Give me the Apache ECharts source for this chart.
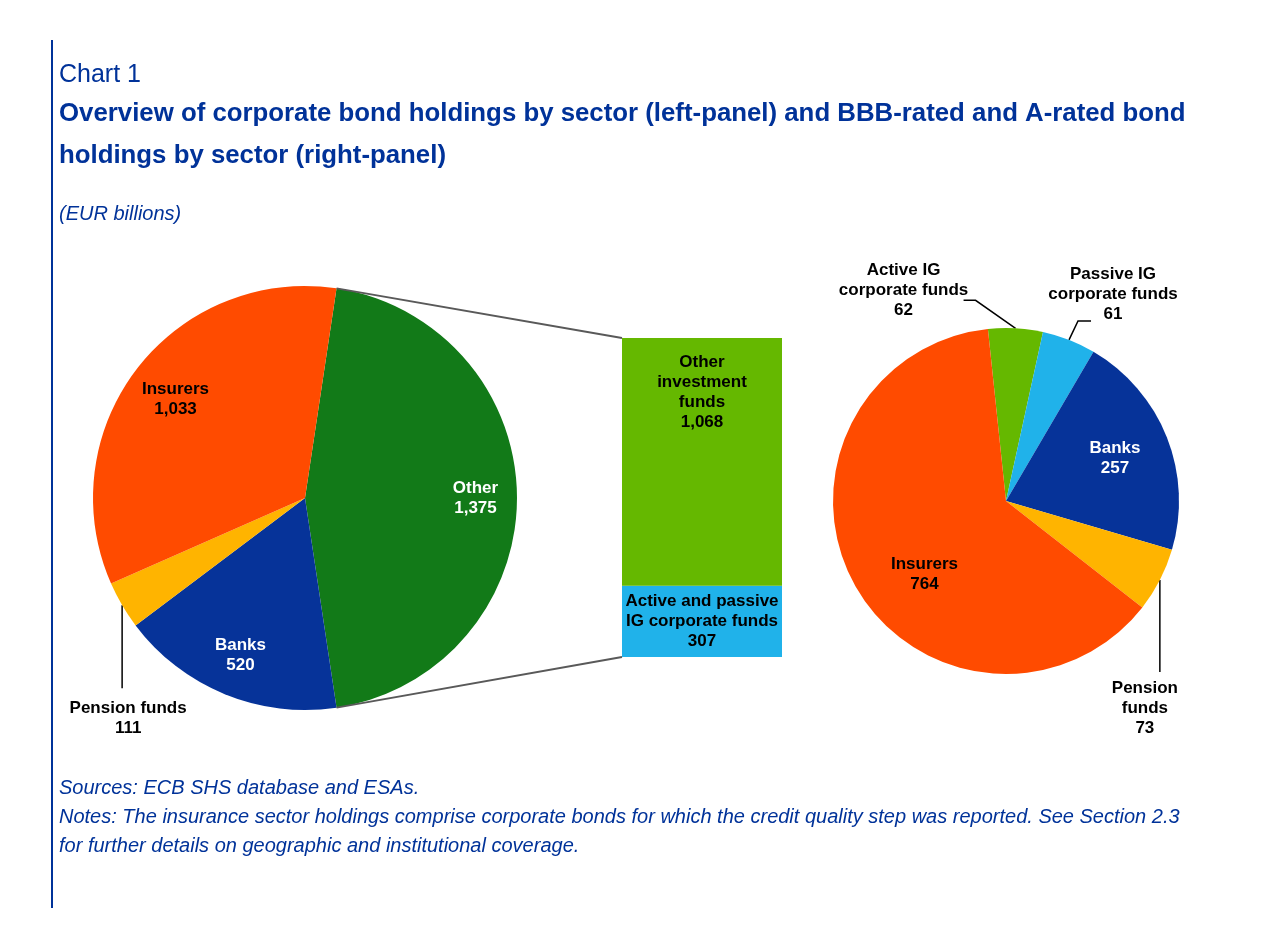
<!DOCTYPE html>
<html>
<head>
<meta charset="utf-8">
<script src="https://cdn.jsdelivr.net/npm/echarts@6/dist/echarts.min.js"></script>
<style>html,body{margin:0;padding:0;background:#fff;}#c{width:1272px;height:950px;}</style>
</head>
<body>
<div id="c"></div>
<script>
// ---- data ----
const leftCategories = ['Other', 'Banks', 'Pension funds', 'Insurers'];
const leftLabels = ['Other', 'Banks', 'Pension funds', 'Insurers'];
const leftValues = [1375, 520, 111, 1033];

const barCategories = ['Active and passive IG corporate funds', 'Other investment funds'];
const barLabels = ['Active and passive\nIG corporate funds', 'Other\ninvestment\nfunds'];
const barValues = [307, 1068];

const rightCategories = ['Active IG corporate funds', 'Passive IG corporate funds', 'Banks', 'Pension funds', 'Insurers'];
const rightLabels = ['Active IG\ncorporate funds', 'Passive IG\ncorporate funds', 'Banks', 'Pension\nfunds', 'Insurers'];
const rightValues = [62, 61, 257, 73, 764];

// ---- styles ----
const BLUE = '#003299';
const FONT = 'Liberation Sans, Arial, sans-serif';
const leftColors = ['#127A18', '#063399', '#FFB400', '#FF4B00'];
const leftLabelColors = ['#fff', '#fff', '#000', '#000'];
const leftOutside = [false, false, true, false];
const rightColors = ['#65B800', '#20B2EA', '#063399', '#FFB400', '#FF4B00'];
const rightLabelColors = ['#000', '#000', '#fff', '#000', '#000'];
const rightOutside = [true, true, false, true, false];
const barColors = ['#20B2EA', '#65B800'];

const LC = [305, 498], LR = 212;
const RC = [1006, 501], RR = 173;
const GRID = {left: 622, top: 338, width: 160, height: 319};

const fmt = v => v.toLocaleString('en-US');
const leftTotal = leftValues.reduce((a, b) => a + b, 0);
const leftStart = 360 * leftValues[0] / leftTotal / 2;
const barTotal = barValues.reduce((a, b) => a + b, 0);

const labelBase = {fontFamily: FONT, fontWeight: 'bold', fontSize: 17, lineHeight: 20};

function pieData(cats, labels, vals, colors, labelColors, outside) {
  return cats.map((n, i) => ({
    name: n, value: vals[i],
    itemStyle: {color: colors[i]},
    label: Object.assign({}, labelBase, {
      show: true, position: outside[i] ? 'outside' : 'inside',
      color: labelColors[i], align: 'center',
      formatter: labels[i] + '\n' + fmt(vals[i])
    }),
    labelLine: {show: outside[i]}
  }));
}
function ghost(data) {
  return data.map(d => Object.assign({}, d, {itemStyle: {color: 'rgba(0,0,0,0)'}}));
}
function makeLayout(cfg) {
  return function (params) {
    const c = cfg[params.dataIndex];
    if (!c) return {};
    if (c.off) return {dx: c.off[0], dy: c.off[1]};
    if (!params.labelLinePoints) return {};
    const p = params.labelLinePoints[0];
    const pts = [[p[0], p[1]]].concat(c.line.map(d => [p[0] + d[0], p[1] + d[1]]));
    return {x: p[0] + c.dx, y: p[1] + c.dy, align: 'center', verticalAlign: 'top', labelLinePoints: pts};
  };
}
const leftLayout = {
  2: {line: [[0, 83], [0, 83]], dx: 6, dy: 93},
  3: {off: [6, 5]}
};
const rightLayout = {
  0: {line: [[-40, -28], [-52, -28]], dx: -112, dy: -68},
  1: {line: [[9, -19], [22, -19]], dx: 44, dy: -76},
  3: {line: [[0, 92], [0, 92]], dx: -15, dy: 98},
  4: {off: [21, 17]}
};

const leftData = pieData(leftCategories, leftLabels, leftValues, leftColors, leftLabelColors, leftOutside);
const rightData = pieData(rightCategories, rightLabels, rightValues, rightColors, rightLabelColors, rightOutside);

// connector line end points from pie geometry
const a1 = leftStart * Math.PI / 180;
const a2 = (leftStart - 360 * leftValues[0] / leftTotal) * Math.PI / 180;
const pTop = [LC[0] + LR * Math.cos(a1), LC[1] - LR * Math.sin(a1)];
const pBot = [LC[0] + LR * Math.cos(a2), LC[1] - LR * Math.sin(a2)];

const chart = echarts.init(document.getElementById('c'));
chart.setOption({
  backgroundColor: '#fff',
  animation: false,
  title: [
    {text: 'Chart 1', left: 59, top: 63, padding: 0,
     textStyle: {fontFamily: FONT, fontSize: 25, fontWeight: 'normal', color: BLUE}},
    {text: 'Overview of corporate bond holdings by sector (left-panel) and BBB-rated and A-rated bond\nholdings by sector (right-panel)',
     left: 59, top: 93, padding: 0,
     textStyle: {fontFamily: FONT, fontSize: 25.8, fontWeight: 'bold', color: BLUE, lineHeight: 42}},
    {text: '(EUR billions)', left: 59, top: 203, padding: 0,
     textStyle: {fontFamily: FONT, fontSize: 20, fontStyle: 'italic', fontWeight: 'normal', color: BLUE, lineHeight: 22}},
    {text: 'Sources: ECB SHS database and ESAs.\nNotes: The insurance sector holdings comprise corporate bonds for which the credit quality step was reported. See Section 2.3\nfor further details on geographic and institutional coverage.',
     left: 59, top: 774, padding: 0,
     textStyle: {fontFamily: FONT, fontSize: 20, fontStyle: 'italic', fontWeight: 'normal', color: BLUE, lineHeight: 29}}
  ],
  grid: GRID,
  xAxis: {type: 'category', data: ['Other'], show: false},
  yAxis: {type: 'value', min: 0, max: barTotal, show: false},
  series: [
    {type: 'pie', center: LC, radius: LR, startAngle: leftStart, silent: true,
     label: {show: false}, labelLine: {show: false}, data: leftData.map(d => ({name: d.name, value: d.value, itemStyle: d.itemStyle}))},
    {type: 'pie', center: LC, radius: [LR * 0.58, LR], startAngle: leftStart, silent: true, avoidLabelOverlap: false,
     labelLine: {lineStyle: {color: '#000', width: 1.5}},
     labelLayout: makeLayout(leftLayout), data: ghost(leftData)},
    {type: 'pie', center: RC, radius: RR, startAngle: 96, silent: true,
     label: {show: false}, labelLine: {show: false}, data: rightData.map(d => ({name: d.name, value: d.value, itemStyle: d.itemStyle}))},
    {type: 'pie', center: RC, radius: [RR * 0.32, RR], startAngle: 96, silent: true, avoidLabelOverlap: false,
     labelLine: {lineStyle: {color: '#000', width: 1.5}},
     labelLayout: makeLayout(rightLayout), data: ghost(rightData)},
    {type: 'bar', stack: 'f', barWidth: '100%', silent: true, name: barCategories[0],
     itemStyle: {color: barColors[0]}, data: [barValues[0]],
     label: Object.assign({}, labelBase, {show: true, position: 'inside', color: '#000', align: 'center',
       formatter: barLabels[0] + '\n' + fmt(barValues[0])})},
    {type: 'bar', stack: 'f', barWidth: '100%', silent: true, name: barCategories[1],
     itemStyle: {color: barColors[1]}, data: [barValues[1]],
     label: Object.assign({}, labelBase, {show: true, position: 'insideTop', distance: 14, color: '#000', align: 'center',
       formatter: barLabels[1] + '\n' + fmt(barValues[1])})}
  ],
  graphic: [
    {type: 'line', shape: {x1: 52, y1: 40, x2: 52, y2: 908}, style: {stroke: BLUE, lineWidth: 2}},
    {type: 'line', z: 10, shape: {x1: pTop[0], y1: pTop[1], x2: GRID.left, y2: GRID.top}, style: {stroke: '#595959', lineWidth: 2}},
    {type: 'line', z: 10, shape: {x1: pBot[0], y1: pBot[1], x2: GRID.left, y2: GRID.top + GRID.height}, style: {stroke: '#595959', lineWidth: 2}}
  ]
});
</script>
</body>
</html>
